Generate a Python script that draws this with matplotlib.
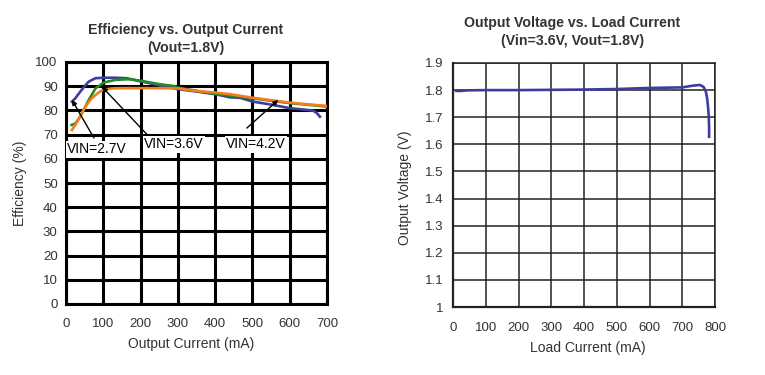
import matplotlib
matplotlib.use('Agg')
import matplotlib.pyplot as plt

plt.rcParams['font.family'] = ['Liberation Sans', 'DejaVu Sans']

# Efficiency vs. output current (Vout=1.8V)
cur_27 = [16, 25, 38, 50, 61, 79, 101, 130, 163, 200, 250, 299, 350, 400, 440, 467, 502, 550, 601, 640, 663, 672, 681]
eff_27 = [83.6, 85.0, 87.7, 90.0, 91.9, 93.3, 93.5, 93.5, 93.3, 92.0, 90.4, 88.8, 87.8, 86.7, 85.4, 85.2, 83.6, 82.4, 80.9, 80.3, 79.9, 79.0, 77.4]

cur_36 = [15, 25, 38, 50, 61, 79, 101, 132, 168, 199, 252, 288, 300, 400, 500, 600, 700]
eff_36 = [74.0, 74.5, 77.4, 81.0, 84.3, 89.1, 91.5, 92.6, 92.9, 92.3, 90.8, 90.1, 89.4, 86.8, 85.0, 83.0, 81.6]

cur_42 = [16, 25, 38, 52, 65, 79, 97, 123, 150, 200, 250, 300, 350, 400, 440, 502, 550, 601, 650, 703]
eff_42 = [71.9, 74.0, 77.5, 81.5, 84.3, 86.4, 88.4, 89.1, 89.2, 89.2, 89.2, 89.1, 88.0, 87.4, 86.7, 85.2, 84.2, 83.2, 82.5, 81.8]

# Output voltage vs. load current (Vin=3.6V, Vout=1.8V)
load = [10, 25, 42, 100, 200, 300, 400, 500, 600, 650, 700, 730, 754, 765, 772, 776, 779, 781, 782, 782]
vout = [1.797, 1.797, 1.799, 1.800, 1.800, 1.801, 1.802, 1.804, 1.808, 1.809, 1.810, 1.816, 1.819, 1.812, 1.795, 1.770, 1.735, 1.700, 1.660, 1.628]

eff_ticks = list(range(0, 101, 10))
cur_ticks = list(range(0, 701, 100))
v_ticks = [1, 1.1, 1.2, 1.3, 1.4, 1.5, 1.6, 1.7, 1.8, 1.9]
v_labels = ['1', '1.1', '1.2', '1.3', '1.4', '1.5', '1.6', '1.7', '1.8', '1.9']
load_ticks = list(range(0, 801, 100))

txt = '#333333'
blue = '#3d3d9e'
green = '#23892a'
orange = '#f47d1c'

fig = plt.figure(figsize=(7.65, 3.75), dpi=100)

# ---- left chart
ax1 = fig.add_axes([66 / 765, 1 - 304 / 375, 261 / 765, 242 / 375])
ax1.set_xlim(0, 700)
ax1.set_ylim(0, 100)
ax1.set_xticks(cur_ticks)
ax1.set_yticks(eff_ticks)
ax1.grid(True, color='black', linewidth=2.2)
for s in ax1.spines.values():
    s.set_linewidth(2.2)
ax1.tick_params(length=0, labelsize=9.5, labelcolor=txt)
ax1.tick_params(axis='x', pad=10)
ax1.tick_params(axis='y', pad=6)
ax1.set_axisbelow(True)

ax1.plot(cur_27, eff_27, color=blue, lw=1.9, zorder=3)
ax1.plot(cur_36, eff_36, color=green, lw=1.9, zorder=3)
ax1.plot(cur_42, eff_42, color=orange, lw=1.9, zorder=3)

arrow = dict(arrowstyle='-|>', color='black', lw=1.0, mutation_scale=7, shrinkA=0, shrinkB=0)
box = dict(facecolor='white', edgecolor='none', pad=1)
ax1.annotate('', xy=(16, 84.3), xytext=(75, 68.6), arrowprops=arrow, zorder=4)
ax1.annotate('', xy=(97, 89.7), xytext=(231, 67.8), arrowprops=arrow, zorder=4)
ax1.annotate('', xy=(569, 84.3), xytext=(485, 72.7), arrowprops=arrow, zorder=4)
ax1.text(3, 64, 'VIN=2.7V', fontsize=10, va='center', ha='left', bbox=box, zorder=5)
ax1.text(209, 66, 'VIN=3.6V', fontsize=10, va='center', ha='left', bbox=box, zorder=5)
ax1.text(429, 66, 'VIN=4.2V', fontsize=10, va='center', ha='left', bbox=box, zorder=5)

fig.text(0.243, 1 - 39 / 375, 'Efficiency vs. Output Current\n(Vout=1.8V)', ha='center', va='center',
         fontsize=10.2, fontweight='bold', color=txt, linespacing=1.3)
fig.text(0.25, 1 - 344 / 375, 'Output Current (mA)', ha='center', va='center', fontsize=10, color=txt)
fig.text(0.026, 1 - 183 / 375, 'Efficiency (%)', ha='center', va='center', rotation=90, fontsize=10, color=txt)

# ---- right chart
ax2 = fig.add_axes([453 / 765, 1 - 307 / 375, 262 / 765, 244 / 375])
ax2.set_xlim(0, 800)
ax2.set_ylim(1, 1.9)
ax2.set_xticks(load_ticks)
ax2.set_yticks(v_ticks)
ax2.set_yticklabels(v_labels)
ax2.grid(True, color='#222222', linewidth=1.1)
for s in ax2.spines.values():
    s.set_linewidth(1.1)
    s.set_color('#222222')
ax2.spines['left'].set_linewidth(1.6)
ax2.spines['bottom'].set_linewidth(1.6)
ax2.tick_params(length=0, labelsize=9.5, labelcolor=txt)
ax2.tick_params(axis='x', pad=11)
ax2.tick_params(axis='y', pad=7)
ax2.set_axisbelow(True)

ax2.plot(load, vout, color=blue, lw=1.9, zorder=3)

fig.text(0.748, 1 - 32 / 375, 'Output Voltage vs. Load Current\n(Vin=3.6V, Vout=1.8V)', ha='center', va='center',
         fontsize=10.2, fontweight='bold', color=txt, linespacing=1.4)
fig.text(0.769, 1 - 348 / 375, 'Load Current (mA)', ha='center', va='center', fontsize=10, color=txt)
fig.text(0.529, 1 - 188 / 375, 'Output Voltage (V)', ha='center', va='center', rotation=90, fontsize=10, color=txt)

fig.savefig('out.png', dpi=100)
